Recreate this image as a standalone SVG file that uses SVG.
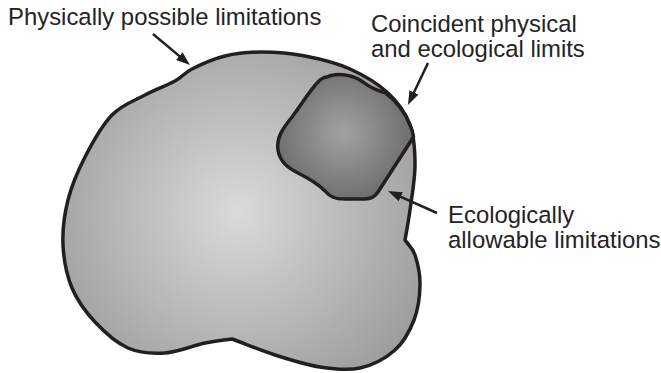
<svg xmlns="http://www.w3.org/2000/svg" width="661" height="373" viewBox="0 0 661 373">
<defs>
<radialGradient id="gOuter" gradientUnits="userSpaceOnUse" cx="237" cy="212" r="205">
<stop offset="0" stop-color="#dadada"/>
<stop offset="1" stop-color="#9e9e9e"/>
</radialGradient>
<radialGradient id="gInner" gradientUnits="userSpaceOnUse" cx="343" cy="133" r="72">
<stop offset="0" stop-color="#a2a2a2"/>
<stop offset="1" stop-color="#6c6c6c"/>
</radialGradient>
<marker id="arrow" viewBox="0 0 14 10" markerUnits="userSpaceOnUse" markerWidth="14" markerHeight="10" refX="6" refY="5" orient="auto">
<path d="M0,0 L14,5 L0,10 Z" fill="#231f20"/>
</marker>
</defs>
<style>
.region{stroke:#231f20;stroke-width:3.5;stroke-linejoin:round}
.lbl{font-family:"Liberation Sans",Arial,sans-serif;font-size:23.9px;fill:#262324}
.conn{stroke:#231f20;stroke-width:2.5;fill:none;marker-end:url(#arrow)}
</style>
<rect width="661" height="373" fill="#ffffff"/>
<g id="physical-region">
<path class="region" fill="url(#gOuter)" d="M192,69 C200.3,64.8 213.3,58.8 225,56 C236.7,53.2 248.7,52 262,52 C275.3,52 290.3,53.2 305,56 C319.7,58.8 336.2,62.8 350,69 C363.8,75.2 378,83.7 388,93 C398,102.3 405.5,113 410,125 C414.5,137 415,150.8 415,165 C415,179.2 411.7,197.5 410,210 C408.3,222.5 406.7,230 405,240 C408.3,245 412.5,247.5 415,255 C417.5,262.5 420.2,274.2 420,285 C419.8,295.8 418.2,309.2 414,320 C409.8,330.8 404,342 395,350 C386,358 372.5,365.2 360,368 C347.5,370.8 334.2,369.2 320,367 C305.8,364.8 289.7,359.7 275,355 C260.3,350.3 246.3,344.3 232,339 C223,340.3 216.2,340.7 205,343 C193.8,345.3 177.8,352.2 165,353 C152.2,353.8 139.7,353.2 128,348 C116.3,342.8 104.3,332 95,322 C85.7,312 77.3,300.8 72,288 C66.7,275.2 63.7,259.7 63,245 C62.3,230.3 64.3,214.7 68,200 C71.7,185.3 77.7,171.2 85,157 C92.3,142.8 102,125.3 112,115 C122,104.7 134.5,100.7 145,95 C155.5,89.3 167.2,85.3 175,81 C182.8,76.7 183.7,73.2 192,69 Z"/>
</g>
<g id="ecological-region">
<path class="region" fill="url(#gInner)" d="M327,77 C335,73 350,74 360,80 C366,84 372,90 385,92.5 C395,100 405,112 410,125 C412,129 413,133 413.5,137 L378,192 C374,198 370,199 365,199 L345,199 C335,199 330,197 325,191 C318,184 308,178 298,173 C288,168 280,162 278,150 C276,138 283,128 292,117 C302,104 310,90 318,82 C321,79 324,77 327,77 Z"/>
</g>
<g id="connectors">
<line class="conn" x1="153" y1="34" x2="183.9" y2="59.9"/>
<line class="conn" x1="428" y1="63" x2="411.4" y2="97.8"/>
<line class="conn" x1="437" y1="213" x2="395.3" y2="194.3"/>
</g>
<g id="label-physical">
<text class="lbl" x="8" y="25">Physically possible limitations</text>
</g>
<g id="label-coincident">
<text class="lbl" x="371" y="32">Coincident physical</text>
<text class="lbl" x="371" y="57">and ecological limits</text>
</g>
<g id="label-ecological">
<text class="lbl" x="448" y="223">Ecologically</text>
<text class="lbl" x="448" y="248">allowable limitations</text>
</g>
</svg>
